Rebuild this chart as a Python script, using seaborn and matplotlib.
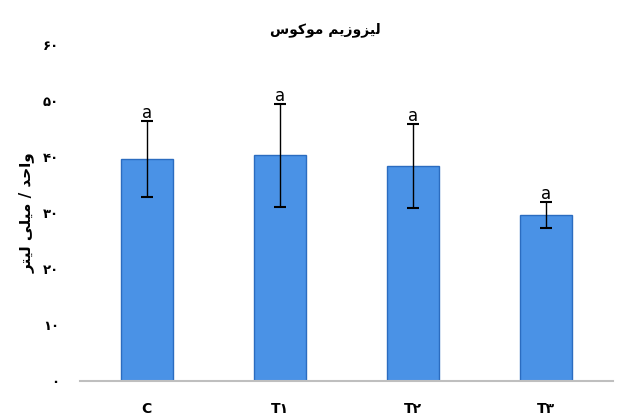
import matplotlib
matplotlib.use("Agg")
import matplotlib.pyplot as plt
import seaborn as sns
import pandas as pd
import numpy as np

# data
groups = ["C", "T\u06f1", "T\u06f2", "T\u06f3"]
means = [39.7, 40.3, 38.4, 29.7]
errors = [6.8, 9.2, 7.5, 2.3]
letters = ["a", "a", "a", "a"]
yticks = [0, 10, 20, 30, 40, 50, 60]

# Persian text, pre-shaped (presentation forms, visual order)
title_txt = "\ufeb1\ufeee\ufb90\ufeee\ufee3 \ufee2\ufbfe\ufeaf\ufeed\ufeb0\ufbff\ufedf"
ylabel_txt = "\ufeae\ufe98\ufbff\ufedf \ufbfd\ufee0\ufbff\ufee3 / \ufeaa\ufea3\ufe8d\ufeed"

def fa_digits(n):
    return str(n).translate(str.maketrans("0123456789", "\u06f0\u06f1\u06f2\u06f3\u06f4\u06f5\u06f6\u06f7\u06f8\u06f9"))

df = pd.DataFrame({"group": groups, "mean": means})

sns.set_style("white")
plt.rcParams['font.family'] = ['DejaVu Sans']
plt.rcParams.update({"text.color": "black", "axes.labelcolor": "black",
                     "xtick.color": "black", "ytick.color": "black"})

fig = plt.figure(figsize=(6.17, 4.18), dpi=100)
ax = fig.add_axes([0.1297, 0.0885, 0.8638, 0.8035])

sns.barplot(data=df, x="group", y="mean", color="#4A92E6", edgecolor="#2B6CC0",
            linewidth=1, width=0.39, saturation=1, errorbar=None, ax=ax)
ax.errorbar(np.arange(len(groups)), means, yerr=errors, fmt="none",
            ecolor="black", elinewidth=1, capsize=4, capthick=1.5)

for i, (m, e, l) in enumerate(zip(means, errors, letters)):
    ax.text(i, m + e - 0.2, l, ha="center", va="bottom", fontsize=12,
            family="Liberation Sans Narrow")

ax.set_ylim(0, 60)
ax.set_xlim(-0.5, 3.5)
ax.set_yticks(yticks)
ax.set_yticklabels([fa_digits(v) for v in yticks], fontsize=9.5, fontweight="bold")
ax.set_xticks(range(len(groups)))
ax.set_xticklabels(groups, fontsize=10, fontweight="bold")
ax.tick_params(axis="x", length=0, pad=15)
ax.tick_params(axis="y", length=0, pad=15)

for s in ["top", "right", "left"]:
    ax.spines[s].set_visible(False)
ax.spines["bottom"].set_color("#BFBFBF")
ax.spines["bottom"].set_linewidth(1.5)

ax.set_xlabel("")
ax.set_ylabel(ylabel_txt, fontsize=11, fontweight="bold")
ax.yaxis.set_label_coords(-0.085, 0.5)
fig.text(0.528, 0.93, title_txt, ha="center", va="center", fontsize=10, fontweight="bold")

fig.savefig("out.png", dpi=100)
